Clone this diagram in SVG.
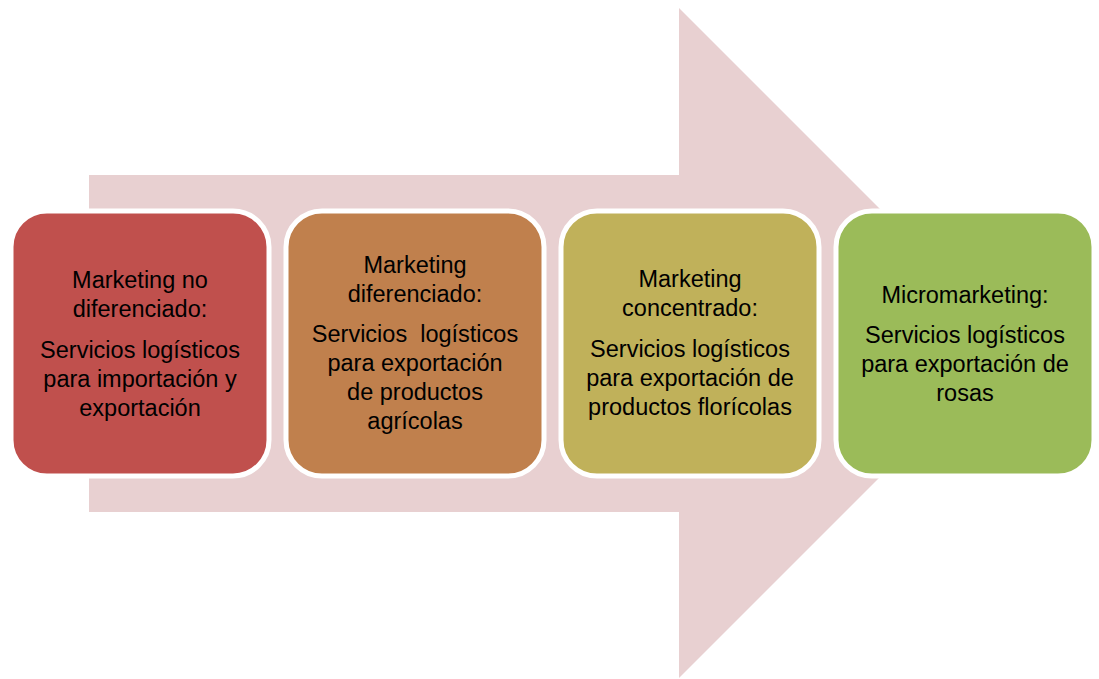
<svg xmlns="http://www.w3.org/2000/svg" width="1099" height="679" viewBox="0 0 1099 679">
<style>
.box{stroke:#ffffff;stroke-width:5}
.t{font-family:"Liberation Sans",Arial,sans-serif;font-size:23.5px;fill:#000000;text-anchor:middle}
</style>
<rect width="1099" height="679" fill="#ffffff"/>
<g id="arrow">
<polygon points="89,175 679,175 679,8 1014,343 679,678 679,512 89,512" fill="#E8D0D1"/>
</g>
<g id="connectors"></g>
<g id="node1">
<rect class="box" x="11" y="211" width="258" height="265" rx="36" fill="#C0504D"/>
<text class="t" x="140" y="288">Marketing no</text>
<text class="t" x="140" y="317">diferenciado:</text>
<text class="t" x="140" y="358">Servicios logísticos</text>
<text class="t" x="140" y="387">para importación y</text>
<text class="t" x="140" y="416">exportación</text>
</g>
<g id="node2">
<rect class="box" x="286" y="211" width="258" height="265" rx="36" fill="#C0804D"/>
<text class="t" x="415" y="273">Marketing</text>
<text class="t" x="415" y="302">diferenciado:</text>
<text class="t" x="415" y="342" style="white-space:pre" xml:space="preserve">Servicios  logísticos</text>
<text class="t" x="415" y="371">para exportación</text>
<text class="t" x="415" y="400">de productos</text>
<text class="t" x="415" y="429">agrícolas</text>
</g>
<g id="node3">
<rect class="box" x="561" y="211" width="258" height="265" rx="36" fill="#C0B15A"/>
<text class="t" x="690" y="287">Marketing</text>
<text class="t" x="690" y="316">concentrado:</text>
<text class="t" x="690" y="357">Servicios logísticos</text>
<text class="t" x="690" y="386">para exportación de</text>
<text class="t" x="690" y="415">productos florícolas</text>
</g>
<g id="node4">
<rect class="box" x="836" y="211" width="258" height="265" rx="36" fill="#9BBB59"/>
<text class="t" x="965" y="303">Micromarketing:</text>
<text class="t" x="965" y="343">Servicios logísticos</text>
<text class="t" x="965" y="372">para exportación de</text>
<text class="t" x="965" y="401">rosas</text>
</g>
</svg>
